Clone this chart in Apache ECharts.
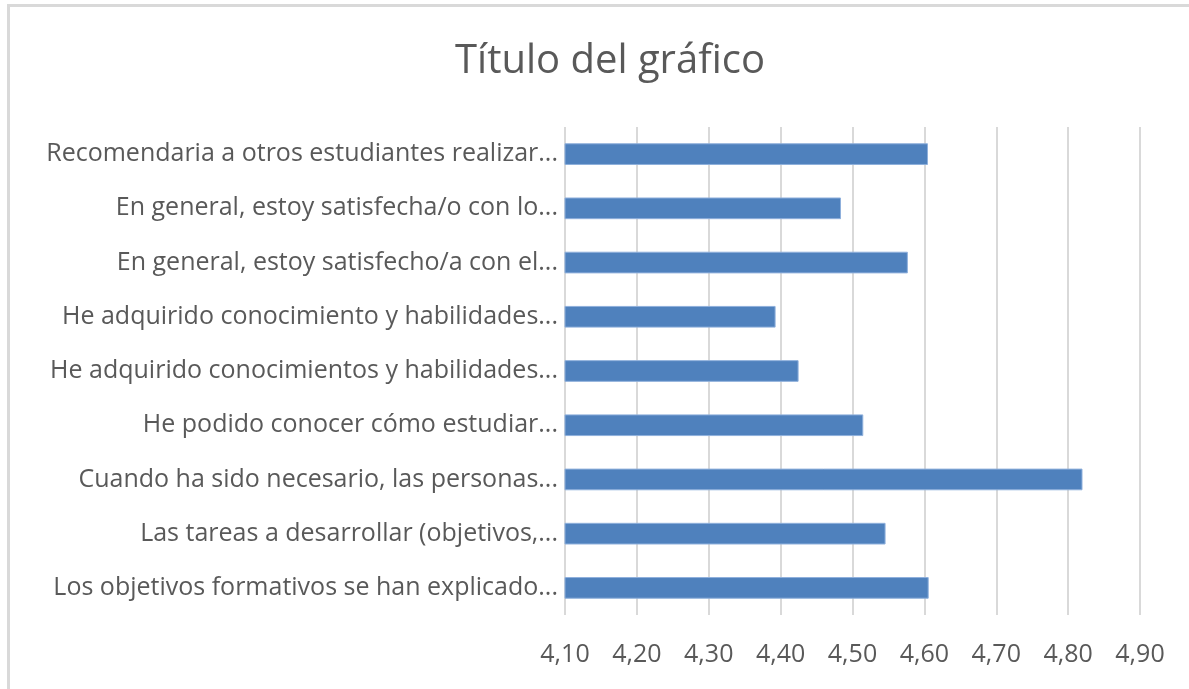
<!DOCTYPE html>
<html>
<head>
<meta charset="utf-8">
<script src="https://cdn.jsdelivr.net/npm/echarts@6/dist/echarts.min.js"></script>
<style>
html,body{margin:0;padding:0;background:#fff;}
#frame{position:absolute;left:7px;top:4px;width:1182px;height:685px;border-left:3px solid #d9d9d9;border-top:3px solid #d9d9d9;box-sizing:border-box;}
#chart{position:absolute;left:0;top:0;width:1189px;height:689px;}
</style>
</head>
<body>
<div id="frame"></div>
<div id="chart"></div>
<script>
const titleText = 'Título del gráfico';
const categories = [
  'Recomendaria a otros estudiantes realizar...',
  'En general, estoy satisfecha/o con lo...',
  'En general, estoy satisfecho/a con el...',
  'He adquirido conocimiento y habilidades...',
  'He adquirido conocimientos y habilidades...',
  'He podido conocer cómo estudiar...',
  'Cuando ha sido necesario, las personas...',
  'Las tareas a desarrollar (objetivos,...',
  'Los objetivos formativos se han explicado...'
];
const values = [4.605, 4.484, 4.577, 4.393, 4.425, 4.515, 4.820, 4.546, 4.606];
const axisMin = 4.1, axisMax = 4.9, axisStep = 0.1;

const FONT = '"Open Sans"';
const chart = echarts.init(document.getElementById('chart'), null, {renderer: 'canvas'});
chart.setOption({
  backgroundColor: 'transparent',
  animation: false,
  title: {
    text: titleText,
    left: 450,
    top: 37,
    textStyle: {fontFamily: FONT, fontSize: 40, fontWeight: 'normal', color: '#595959'}
  },
  grid: {left: 565, right: 49, top: 127, bottom: 74, containLabel: false},
  xAxis: {
    type: 'value',
    min: axisMin, max: axisMax, interval: axisStep,
    axisLine: {show: false},
    axisTick: {show: false},
    splitLine: {show: true, lineStyle: {color: '#d9d9d9', width: 2}},
    axisLabel: {
      margin: 27,
      fontFamily: FONT, fontSize: 25, color: '#595959',
      formatter: v => v.toFixed(2).replace('.', ',')
    }
  },
  yAxis: {
    type: 'category',
    inverse: true,
    data: categories,
    axisLine: {show: false},
    axisTick: {show: false},
    axisLabel: {margin: 7, fontFamily: FONT, fontSize: 25, color: '#595959'}
  },
  series: [{
    type: 'bar',
    data: values,
    barCategoryGap: '60%',
    itemStyle: {color: '#4f81bd', borderColor: '#8fb0dc', borderWidth: 1}
  }]
});
</script>
</body>
</html>
